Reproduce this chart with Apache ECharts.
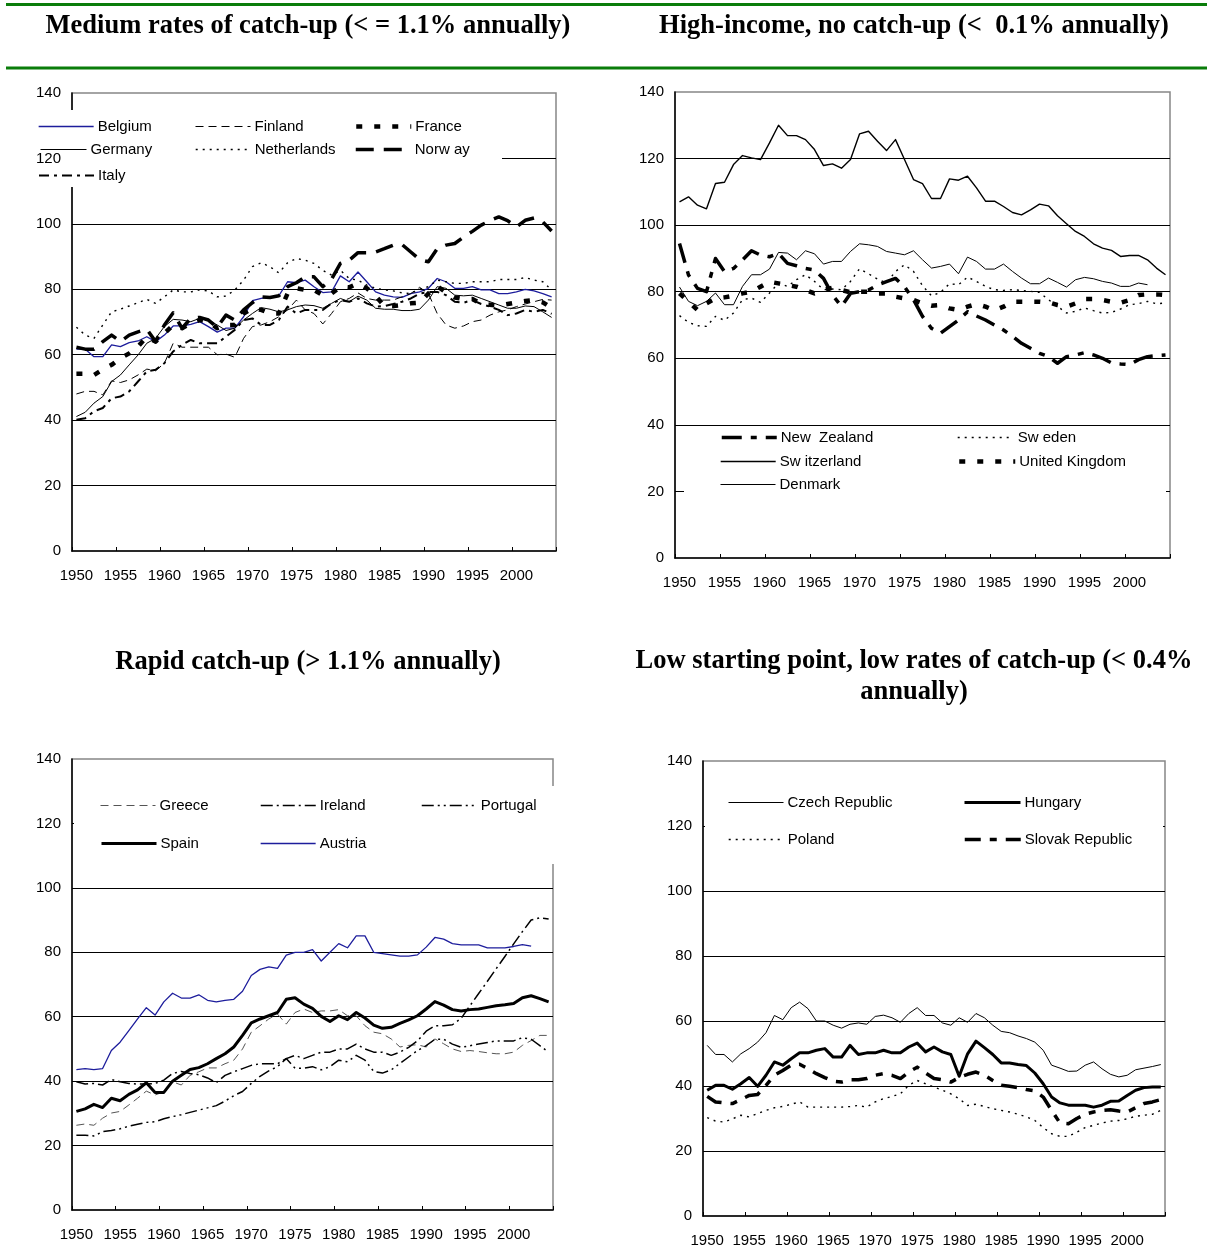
<!DOCTYPE html>
<html style="height: 100%">
<head>
<meta charset="utf-8">
<title>GDP per capita relative to the United States</title>
<script src="https://cdn.jsdelivr.net/npm/echarts@6/dist/echarts.min.js"></script>
</head>
<body style="margin: 0; background: #fff">
<div id="container" style="position: absolute; left: 0; top: 0; width: 1207px; height: 1260px"></div>
<script type="text/javascript">

// categories (years on the x axis)
const years = [1950,1951,1952,1953,1954,1955,1956,1957,1958,1959,
               1960,1961,1962,1963,1964,1965,1966,1967,1968,1969,
               1970,1971,1972,1973,1974,1975,1976,1977,1978,1979,
               1980,1981,1982,1983,1984,1985,1986,1987,1988,1989,
               1990,1991,1992,1993,1994,1995,1996,1997,1998,1999,
               2000,2001,2002,2003,2004];
const yTicks = [0, 140, 20];   // min, max, interval

// panel 1: medium rates of catch-up
const belgium = [61.7,61.7,59.4,59.4,63,62.5,63.7,64.2,65.5,64,
                 66,68.8,68.8,69.3,70.1,68.6,66.9,68.1,68.1,71.6,
                 76.5,77.2,77.7,78,82.3,82,82.8,80.8,79,79.2,
                 84.1,82.3,85.3,82.3,79.2,78.2,77.7,77.5,78.7,79.2,
                 80.3,83.3,82.3,80.3,80.3,80.8,79.8,79.8,78.7,78.7,
                 79.2,80,79.5,78.7,77.7];
const finland = [48,48.8,48.8,47.7,52,51.5,52.3,53.8,55.6,55.1,
                 57.4,63.5,62.3,62.3,62.3,62.3,60,60.2,59.2,65,
                 68.6,69.1,70.1,71.6,73.7,76.7,73.7,72.6,69.4,72.6,
                 76.2,77.2,78.9,77.2,76.7,76.7,76.7,77.7,78.7,80.6,
                 78.7,72.6,69.1,68.1,68.8,70.1,70.6,72.1,73.1,73.7,
                 74.7,75.5,76.2,76.9,76.7];
const france = [54.2,54.2,53.8,55.5,56.9,58.9,60.4,62.5,65.5,64,
                66.5,69.1,68.1,69.6,70.6,70.1,68.1,69.1,69.1,72.6,
                74.2,73.7,72.6,72.6,78.7,80.3,79.8,79.8,78.2,78.7,
                80.8,80.6,81.8,80.3,78,74.9,74.9,75.2,75.7,75.9,
                78.7,81,79,77.5,77,77,75.6,75.3,75,75.5,
                76,76.4,76.7,76,74.3];
const germany = [41.1,42.4,45.2,47.2,51.8,53.8,56.9,59.9,63.5,65,
                 68.6,70.8,70.6,70.1,71.1,70.6,69.1,67.4,68.1,70.6,
                 72.6,74.4,73.9,73.1,73.7,74.7,75.2,75,74.2,75.7,
                 77.2,76.2,77.9,76.7,74.2,73.9,73.9,73.5,73.5,73.9,
                 76.7,80.8,80.3,78.2,78,78.2,77.2,76.2,75.2,74.2,
                 74.2,74.9,74.7,73.1,71.4];
const netherlands = [68.4,66,65,69.1,73.1,73.9,74.9,75.9,76.9,75.7,
                     77.7,79.8,79.2,79.2,79.8,79.5,77.7,77.9,79.8,82.8,
                     86.9,88.1,86.9,85,88.1,89.4,88.9,87.9,85.8,84.3,
                     85.8,83.3,82.8,81.3,80.3,79.8,79.5,78.9,78.7,80,
                     80.8,82.8,82.3,81.8,81.8,82.3,82.3,82.3,83,83,
                     83,83.6,82.8,82.3,79.8];
const norway = [62.3,61.7,61.7,64,66,64,66,67,67.8,64,
                69.1,72.8,68.1,71.1,71.4,70.6,68.4,72.1,70.6,73.7,
                75.9,77.7,77.5,78,80.8,82,83.8,83.8,80.8,83.1,
                87.9,88.9,91.2,91.2,91.4,92.4,93.5,93.7,91.4,89.1,
                88.4,92.4,93.5,94,96,97.7,99.6,101,102.1,101,
                99,101.1,101.8,100.6,97.8];
const italy = [40.1,40.6,42.7,43.7,46.7,47.2,48.8,51.8,54.9,55.4,
               57.4,61,63,64.5,63.5,63.5,63.5,65.5,67.6,70.6,
               71.1,69.1,69.1,70.6,74.7,72.6,73.7,73.7,73.7,75.7,
               76.7,76.2,77.2,75.7,74.7,74.9,75.5,76.2,77.2,78.7,
               79.2,79.2,78.2,76.2,75.9,76.7,75.5,74.7,73.7,72.1,
               72.6,73.7,73.1,73.7,72.5];

// panel 2: high-income, no catch-up
const newZealand = [94.5,85,81,80,90,86,87,89.5,92.3,91,
                    90.5,91.5,88.5,87.8,87,86.5,84,79,75.6,79.5,
                    80,80.5,82,83,84,81.5,77.6,72.6,69,67.5,
                    69.5,71.5,74,72.7,71.5,70,68.5,66.6,64.5,63,
                    61.5,60.5,58.5,60.5,61,61.7,61,60,58.6,58.3,
                    58.1,59.6,60.5,60.8,61];
const switzerland = [107,108.5,106,104.9,112.5,112.9,118.2,120.9,120.2,119.7,
                     124.7,130,126.9,126.9,125.7,122.7,117.9,118.4,117.1,119.7,
                     127.4,128.2,125.2,122.4,125.7,119.7,113.7,112.5,108,108,
                     113.9,113.5,114.7,111.2,107.2,107.2,105.6,103.8,103.1,104.6,
                     106.3,105.8,102.8,100.4,98.1,96.6,94.4,93.1,92.4,90.6,
                     90.9,90.9,89.6,87.1,85.1];
const denmark = [81.4,77.1,75.8,77.1,79.6,76.1,76.1,81.6,85.1,85.1,
                 86.8,91.8,91.6,89.6,92.3,91.4,88.3,89.1,89.1,92.1,
                 94.4,94.1,93.6,92.1,91.6,91.1,92.3,89.6,87.1,87.6,
                 88.3,85.4,90.4,89.1,86.8,86.8,88.3,86.1,84.1,82.4,
                 82.4,84.1,82.8,81.4,83.6,84.3,83.9,83.1,82.6,81.6,
                 81.6,82.6,82.1];
const sweden = [72.8,70.8,69.8,69.6,72.6,71.4,73.6,77.6,78.1,76.8,
                79.6,82.6,81.6,83.6,85.1,83.1,80.6,80.8,80.6,83.1,
                86.9,85.4,83.8,82.6,86.1,88.1,86.1,81.8,78.8,79.8,
                82.4,82.1,84.4,83.1,81.6,80.6,80.4,80.6,80.4,80.1,
                79.8,77.6,75.6,73.6,74.1,75.1,74.3,73.6,73.8,74.8,
                76.1,76.4,77.1,76.4,76.6];
const unitedKingdom = [79.5,77,74.5,76.5,78,78.3,78.8,79.5,80,81.5,
                       83,82.5,82,81.5,80.5,79.5,80.5,81.2,80.5,79.8,
                       80,80,79.5,79.5,78.5,78,77.5,76.5,75.8,76,
                       75,74.5,75.5,76.3,75.5,74.4,75.5,77,77,77,
                       77,76.8,76,75.5,76.5,77.8,77.8,77.5,77,76.7,
                       77.5,79,79.2,79.2,79];

// panel 3: rapid catch-up
const greece = [26.3,26.7,26.3,28.5,30.1,30.6,32.6,34.7,36.9,35.7,
                36.7,39.8,38.8,41.8,42.9,44.1,44.1,45.4,46.5,50,
                55.2,57.2,59.3,60.8,57.7,61.3,62.4,61.3,61.8,61.8,
                62.2,60.3,60.3,57.2,55.2,54.7,53.1,50.6,51.1,51.3,
                50.6,53.1,51.6,50,49.2,49.5,49.2,48.8,48.5,48.5,
                49,51.1,52.6,54.2,54.2];
const ireland = [39.8,39.1,39.3,38.8,40.5,39.8,39.3,39.1,39.1,39.3,
                 40.3,42.4,43,42.4,42,41,39.5,41.8,42.9,43.9,
                 44.9,45.4,45.4,45.4,47,48,47,48,49,49,
                 50,50,51.5,50,49,49,48,49,50.5,52.5,
                 55.5,57.2,57.2,57.5,59.5,63.4,67.2,71,74.9,78.7,
                 82.6,86.4,90,90.7,90.3];
const portugal = [23.2,23.2,23,24.3,24.7,25.2,26,26.6,27.2,27.4,
                  28.3,29,29.6,30.3,31,31.7,32.4,33.8,35.5,36.8,
                  39.3,41.5,43.2,44.5,47,44,44,44.5,43.5,44.5,
                  46.5,46,48,46.5,43,42.5,43.5,45.5,47.5,49.5,
                  51,53,53,51.5,50.5,51,51.5,52,52.5,52.5,
                  52.5,53.5,53,51,49];
const spain = [30.6,31.4,32.8,31.8,34.7,33.9,35.9,37.3,39.5,36.5,
               36.5,40,41.8,43.6,44.2,45.4,47,48.5,50.6,54.2,
               58.1,59.3,60.3,61.3,65.4,65.9,63.9,62.6,60.1,58.5,
               60.3,59.1,61.3,59.6,57.4,56.4,56.7,57.9,59,60.3,
               62.4,64.7,63.6,62.2,61.8,62.2,62.4,62.9,63.4,63.7,
               64.1,65.9,66.5,65.6,64.6];
const austria = [43.6,43.9,43.6,43.9,49.5,52.1,55.7,59.3,62.8,60.5,
                 64.6,67.3,65.8,65.8,66.8,65.1,64.6,65.1,65.4,67.9,
                 72.8,74.7,75.5,75,79.1,80,80,80.8,77.3,80,
                 82.7,81.4,85.1,85.1,80,79.6,79.2,78.8,78.8,79.2,
                 81.6,84.6,84.1,82.7,82.3,82.3,82.3,81.4,81.4,81.4,
                 81.8,82.4,81.9];

// panel 4: low starting point, low rates of catch-up
const czech = [52.5,49.7,49.7,47.4,49.9,51.5,53.5,56.4,61.7,60.4,
               64.1,65.8,63.8,60,60,58.7,57.8,59,59.4,59,
               61.4,61.8,61,59.6,62.3,64.1,61.7,61.7,59.4,58.7,
               61,59.6,62.3,61,58.7,56.8,56.4,55.4,54.6,53.5,
               51,46.4,45.5,44.5,44.6,46.4,47.4,45.3,43.6,42.8,
               43.3,45,45.5,46,46.6];
const hungary = [38.7,40.2,40.2,39,40.7,42.6,39.9,43.3,47.4,46.4,
                 48.4,50.2,50.2,51,51.5,48.9,48.9,52.5,49.7,50.2,
                 50.2,51,50.2,50.2,52,53.2,50.5,52,50.5,49.7,
                 43,49.9,53.8,51.8,49.7,47.1,47.1,46.6,46.3,44,
                 40.7,36.6,34.8,34.1,34.1,34.1,33.5,34.1,35.3,35.4,
                 37.1,38.7,39.5,39.7,39.7];
const poland = [30.3,29.2,28.9,29.9,31,30.5,31.5,32.5,33.3,33.7,
                34.4,35.1,33.5,33.5,33.5,33.5,33.5,33.7,34,33.5,
                35.1,36.1,36.8,37.6,40.2,41.7,40.7,39.7,38.7,37.6,
                36.1,34,34.4,33.7,33,32.5,32,31.3,30.5,29.4,
                27.2,25.3,24.5,24.5,25.8,27.2,27.9,28.6,29.2,29.4,
                29.9,30.7,31,31.3,32.5];
const slovak = [36.8,35.1,34.8,34.6,35.8,37.1,37.4,40.2,43.3,44.8,
                46.4,46.7,45.3,43.8,42.6,41.5,41.2,41.9,41.9,42.3,
                43.3,43.8,43.3,42.3,44.3,45.8,44,42.3,41.9,41.2,
                42.6,43.6,44.3,43.3,41.7,40.2,39.9,39.5,38.9,38.5,
                36.6,32.5,28.6,28.4,30,31.3,32,32.5,32.7,32.3,
                32,33.3,34.6,35.1,35.8];

// ---------------- styles ----------------
const FONT = 'Liberation Sans, Arial, sans-serif';
const BLUE = '#1d1d9c';
const st = {
  solidBlue:  { color: BLUE, width: 1.3, type: 'solid' },
  thinDash:   { color: '#000', width: 1, type: [8, 5] },
  greyDash:   { color: '#555', width: 1, type: [8, 5] },
  bigDots:    { color: '#000', width: 4.5, type: [6, 12], cap: 'butt' },
  thin:       { color: '#000', width: 1, type: 'solid' },
  medium:     { color: '#000', width: 1.4, type: 'solid' },
  fineDots:   { color: '#000', width: 1.4, type: [2, 5], cap: 'butt' },
  longDash:   { color: '#000', width: 3.5, type: [18, 10], cap: 'butt' },
  dashDot:    { color: '#000', width: 2, type: [10, 5, 3, 5], cap: 'butt' },
  nzDash:     { color: '#000', width: 3.5, type: [20, 9, 6, 9], cap: 'butt' },
  irDash:     { color: '#000', width: 1.5, type: [12, 4, 2, 4], cap: 'butt' },
  ptDash:     { color: '#000', width: 1.5, type: [12, 4, 2, 4, 2, 4], cap: 'butt' },
  thick:      { color: '#000', width: 3, type: 'solid' },
  skDash:     { color: '#000', width: 3.5, type: [16, 9, 7, 9], cap: 'butt' }
};

// [name, data, panel, style, legend x, legend row y, icon width]
const lines = [
  ['Belgium', belgium, 0, st.solidBlue, 38, 126, 55],
  ['Finland', finland, 0, st.thinDash, 195, 126, 55],
  ['France', france, 0, st.bigDots, 354, 126, 55],
  ['Germany', germany, 0, st.thin, 40, 149, 46],
  ['Netherlands', netherlands, 0, st.fineDots, 195, 149, 55],
  ['Norw ay', norway, 0, st.longDash, 354, 149, 55],
  ['Italy', italy, 0, st.dashDot, 38, 175, 55],

  ['New  Zealand', newZealand, 1, st.nzDash, 720, 437, 55],
  ['Sw eden', sweden, 1, st.fineDots, 957, 437, 56],
  ['Sw itzerland', switzerland, 1, st.medium, 720, 461, 55],
  ['United Kingdom', unitedKingdom, 1, st.bigDots, 957, 461, 56],
  ['Denmark', denmark, 1, st.thin, 720, 484, 55],

  ['Greece', greece, 2, st.greyDash, 100, 805, 55],
  ['Ireland', ireland, 2, st.irDash, 260, 805, 55],
  ['Portugal', portugal, 2, st.ptDash, 421, 805, 55],
  ['Spain', spain, 2, st.thick, 100, 843, 55],
  ['Austria', austria, 2, st.solidBlue, 260, 843, 55],

  ['Czech Republic', czech, 3, st.thin, 728, 802, 55],
  ['Hungary', hungary, 3, st.thick, 963, 802, 56],
  ['Poland', poland, 3, st.fineDots, 728, 839, 55],
  ['Slovak Republic', slovak, 3, st.skDash, 963, 839, 56]
];

const grids = [
  { left: 72,  top: 93,  width: 484, height: 458 },
  { left: 675, top: 92,  width: 495, height: 466 },
  { left: 72,  top: 759, width: 481, height: 451 },
  { left: 703, top: 761, width: 462, height: 455 }
];

const titles = [
  { text: 'Medium rates of catch-up (< = 1.1% annually)', x: 308, y: 26 },
  { text: 'High-income, no catch-up (<  0.1% annually)', x: 914, y: 26 },
  { text: 'Rapid catch-up (> 1.1% annually)', x: 308, y: 662 },
  { text: 'Low starting point, low rates of catch-up (< 0.4%\nannually)', x: 914, y: 677 }
];

// white boxes behind the legends (they hide the gridlines there)
const legendBoxes = [
  [66, 110, 436, 77],
  [684, 428, 482, 68],
  [74, 786, 485, 78],
  [705, 784, 458, 78]
];

let dom = document.getElementById('container');
let chart = echarts.init(dom, null, { renderer: 'canvas', width: 1207, height: 1260 });

let graphic = [];
// green rules at the top
graphic.push({ type: 'line', shape: { x1: 6, y1: 4.5, x2: 1207, y2: 4.5 }, style: { stroke: '#0a7d0a', lineWidth: 3 }, z: 1 });
graphic.push({ type: 'line', shape: { x1: 6, y1: 68, x2: 1207, y2: 68 }, style: { stroke: '#0a7d0a', lineWidth: 3 }, z: 1 });
titles.forEach(function (t) {
  graphic.push({
    type: 'text', x: t.x, y: t.y, z: 5,
    style: { text: t.text, textAlign: 'center', textVerticalAlign: 'middle',
             font: 'bold 26.5px "Liberation Serif", "Times New Roman", serif',
             fill: '#000', lineHeight: 31 }
  });
});
legendBoxes.forEach(function (b) {
  graphic.push({ type: 'rect', shape: { x: b[0], y: b[1], width: b[2], height: b[3] },
                 style: { fill: '#fff' }, z: 3, silent: true });
});

let xAxes = [], yAxes = [], gridOpts = [];
grids.forEach(function (g, i) {
  gridOpts.push({ left: g.left, top: g.top, width: g.width, height: g.height,
                  show: true, borderColor: '#868686', borderWidth: 1.5, backgroundColor: '#fff' });
  xAxes.push({
    gridIndex: i, type: 'category', data: years, boundaryGap: true,
    axisLine: { lineStyle: { color: '#000', width: 1.5 } },
    axisTick: { show: true, interval: 4, inside: true, length: 4, lineStyle: { color: '#000' } },
    axisLabel: { interval: 4, color: '#000', fontSize: 15, fontFamily: FONT, margin: 17 },
    splitLine: { show: false }
  });
  yAxes.push({
    gridIndex: i, type: 'value', min: yTicks[0], max: yTicks[1], interval: yTicks[2],
    axisLine: { show: true, lineStyle: { color: '#000', width: 1.5 } },
    axisTick: { show: false },
    axisLabel: { color: '#000', fontSize: 15, fontFamily: FONT, margin: 11 },
    splitLine: { show: true, showMinLine: false, showMaxLine: false, lineStyle: { color: '#000', width: 1 } }
  });
});

let series = [], legends = [];
lines.forEach(function (l) {
  let ls = { color: l[3].color, width: l[3].width, type: l[3].type, cap: l[3].cap || 'butt', join: 'round' };
  series.push({
    name: l[0], type: 'line', data: l[1],
    xAxisIndex: l[2], yAxisIndex: l[2],
    symbol: 'none', smooth: false, animation: false,
    lineStyle: ls, itemStyle: { color: l[3].color }, z: 2
  });
  legends.push({
    data: [l[0]], left: l[4], top: l[5] - 7, padding: 0,
    itemWidth: l[6], itemHeight: 18, selectedMode: false, z: 6,
    lineStyle: ls, itemStyle: { opacity: 0 },
    textStyle: { color: '#000', fontSize: 15, fontFamily: FONT, padding: [0, 0, 0, -1] }
  });
});

chart.setOption({
  animation: false,
  backgroundColor: '#fff',
  grid: gridOpts,
  xAxis: xAxes,
  yAxis: yAxes,
  legend: legends,
  series: series,
  graphic: graphic
});

</script>
</body>
</html>
